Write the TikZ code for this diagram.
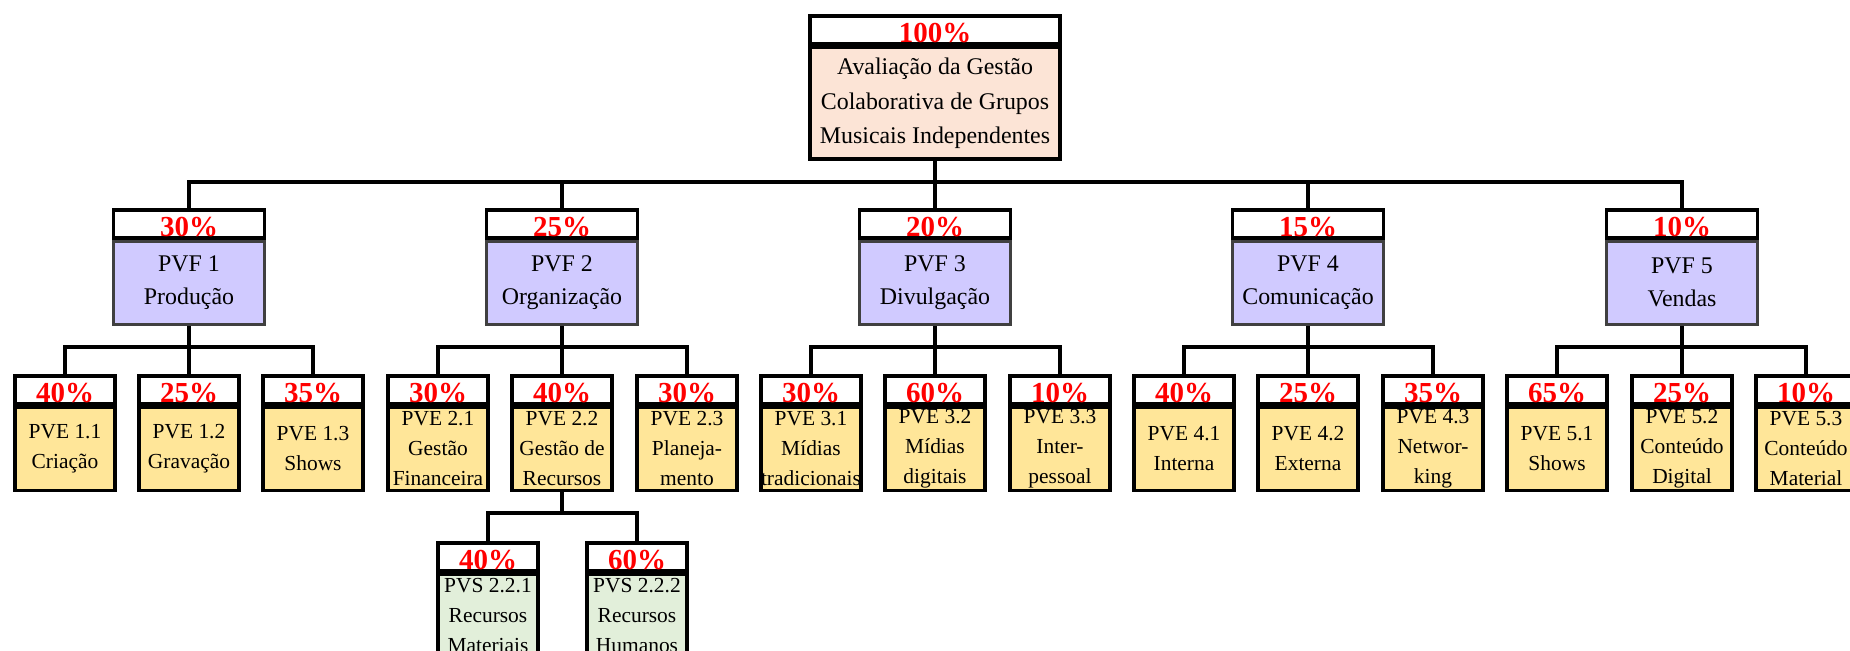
\documentclass[tikz,border=0pt]{standalone}
\usepackage{fontspec}
\setmainfont{Liberation Serif}
\usepackage{tikz}

\definecolor{rootfill}{HTML}{FCE4D6}
\definecolor{pvffill}{HTML}{D0CAFF}
\definecolor{pvefill}{HTML}{FFE699}
\definecolor{pvsfill}{HTML}{E2EFDA}

\newcommand{\rootsize}{\fontsize{13.6}{19.6}\selectfont}
\newcommand{\pvfsize}{\fontsize{13.6}{18.8}\selectfont}
\newcommand{\pvesize}{\fontsize{12.2}{17}\selectfont}

\tikzset{
  pct/.style={draw, line width=2pt, fill=white, text=red,
    font=\fontsize{16.5}{16.5}\selectfont\bfseries, minimum width=#1,
    minimum height=0.56cm, inner sep=0pt, text height=0.5cm,
    text depth=0pt, anchor=north},
  body/.style={draw, line width=2pt, minimum width=#1,
    minimum height=1.66cm, inner sep=0pt, align=center, anchor=north},
  link/.style={line width=1.8pt},
}

\begin{document}
\begin{tikzpicture}[x=0.02cm, y=-0.02cm]
                \clip (0,0) rectangle (1850,650);

                % raiz
                \node[pct=5cm] (rootp) at (935,14) {100\%};
                \node[body=5cm, minimum height=2.24cm, fill=rootfill, font=\rootsize] (root) at (rootp.south) {Avaliação da Gestão\\Colaborativa de Grupos\\Musicais Independentes};

                % PVF
                \node[pct=3.02cm] (pvf1p) at (189,208) {30\%};
                \node[body=3.02cm, fill=pvffill, draw=black!75, font=\pvfsize] (pvf1) at (pvf1p.south) {PVF 1\\Produção};
                \node[pct=3.02cm] (pvf2p) at (562,208) {25\%};
                \node[body=3.02cm, fill=pvffill, draw=black!75, font=\pvfsize] (pvf2) at (pvf2p.south) {PVF 2\\Organização};
                \node[pct=3.02cm] (pvf3p) at (935,208) {20\%};
                \node[body=3.02cm, fill=pvffill, draw=black!75, font=\pvfsize] (pvf3) at (pvf3p.south) {PVF 3\\Divulgação};
                \node[pct=3.02cm] (pvf4p) at (1308,208) {15\%};
                \node[body=3.02cm, fill=pvffill, draw=black!75, font=\pvfsize] (pvf4) at (pvf4p.south) {PVF 4\\Comunicação};
                \node[pct=3.02cm] (pvf5p) at (1682,208) {10\%};
                \node[body=3.02cm, fill=pvffill, draw=black!75, font=\pvfsize] (pvf5) at (pvf5p.south) {PVF 5\\Vendas};

                % PVE
                \node[pct=2cm] (pve11p) at (65,374) {40\%};
                \node[body=2cm, fill=pvefill, font=\pvesize] (pve11) at (pve11p.south) {PVE 1.1\\Criação};
                \node[pct=2cm] (pve12p) at (189,374) {25\%};
                \node[body=2cm, fill=pvefill, font=\pvesize] (pve12) at (pve12p.south) {PVE 1.2\\Gravação};
                \node[pct=2cm] (pve13p) at (313,374) {35\%};
                \node[body=2cm, fill=pvefill, font=\pvesize] (pve13) at (pve13p.south) {PVE 1.3\\Shows};

                \node[pct=2cm] (pve21p) at (438,374) {30\%};
                \node[body=2cm, fill=pvefill, font=\pvesize] (pve21) at (pve21p.south) {PVE 2.1\\Gestão\\Financeira};
                \node[pct=2cm] (pve22p) at (562,374) {40\%};
                \node[body=2cm, fill=pvefill, font=\pvesize] (pve22) at (pve22p.south) {PVE 2.2\\Gestão de\\Recursos};
                \node[pct=2cm] (pve23p) at (687,374) {30\%};
                \node[body=2cm, fill=pvefill, font=\pvesize] (pve23) at (pve23p.south) {PVE 2.3\\Planeja-\\mento};

                \node[pct=2cm] (pve31p) at (811,374) {30\%};
                \node[body=2cm, fill=pvefill, font=\pvesize] (pve31) at (pve31p.south) {PVE 3.1\\Mídias\\tradicionais};
                \node[pct=2cm] (pve32p) at (935,374) {60\%};
                \node[body=2cm, fill=pvefill, font=\pvesize] (pve32) at (pve32p.south) {PVE 3.2\\Mídias\\digitais};
                \node[pct=2cm] (pve33p) at (1060,374) {10\%};
                \node[body=2cm, fill=pvefill, font=\pvesize] (pve33) at (pve33p.south) {PVE 3.3\\Inter-\\pessoal};

                \node[pct=2cm] (pve41p) at (1184,374) {40\%};
                \node[body=2cm, fill=pvefill, font=\pvesize] (pve41) at (pve41p.south) {PVE 4.1\\Interna};
                \node[pct=2cm] (pve42p) at (1308,374) {25\%};
                \node[body=2cm, fill=pvefill, font=\pvesize] (pve42) at (pve42p.south) {PVE 4.2\\Externa};
                \node[pct=2cm] (pve43p) at (1433,374) {35\%};
                \node[body=2cm, fill=pvefill, font=\pvesize] (pve43) at (pve43p.south) {PVE 4.3\\Networ-\\king};

                \node[pct=2cm] (pve51p) at (1557,374) {65\%};
                \node[body=2cm, fill=pvefill, font=\pvesize] (pve51) at (pve51p.south) {PVE 5.1\\Shows};
                \node[pct=2cm] (pve52p) at (1682,374) {25\%};
                \node[body=2cm, fill=pvefill, font=\pvesize] (pve52) at (pve52p.south) {PVE 5.2\\Conteúdo\\Digital};
                \node[pct=2cm] (pve53p) at (1806,374) {10\%};
                \node[body=2cm, fill=pvefill, font=\pvesize] (pve53) at (pve53p.south) {PVE 5.3\\Conteúdo\\Material};

                % PVS
                \node[pct=2cm] (pvs1p) at (488,541) {40\%};
                \node[body=2cm, fill=pvsfill, font=\pvesize] (pvs1) at (pvs1p.south) {PVS 2.2.1\\Recursos\\Materiais};
                \node[pct=2cm] (pvs2p) at (637,541) {60\%};
                \node[body=2cm, fill=pvsfill, font=\pvesize] (pvs2) at (pvs2p.south) {PVS 2.2.2\\Recursos\\Humanos};

                % ligacoes
                \coordinate (b1) at (935,182);
                \coordinate (b2) at (0,347);
                \coordinate (b3) at (0,513);

                \draw[link] (root.south) -- (pvf3p.north);
                \draw[link] (pvf1p.north) |- (b1) -| (pvf5p.north);
                \draw[link] (pvf2p.north) -- (pvf2p.north |- b1);
                \draw[link] (pvf4p.north) -- (pvf4p.north |- b1);

                \draw[link] (pve11p.north) |- (pvf1.south |- b2) -| (pve13p.north);
                \draw[link] (pvf1.south) -- (pve12p.north);
                \draw[link] (pve21p.north) |- (pvf2.south |- b2) -| (pve23p.north);
                \draw[link] (pvf2.south) -- (pve22p.north);
                \draw[link] (pve31p.north) |- (pvf3.south |- b2) -| (pve33p.north);
                \draw[link] (pvf3.south) -- (pve32p.north);
                \draw[link] (pve41p.north) |- (pvf4.south |- b2) -| (pve43p.north);
                \draw[link] (pvf4.south) -- (pve42p.north);
                \draw[link] (pve51p.north) |- (pvf5.south |- b2) -| (pve53p.north);
                \draw[link] (pvf5.south) -- (pve52p.north);

                \draw[link] (pvs1p.north) |- (pve22.south |- b3) -| (pvs2p.north);
                \draw[link] (pve22.south) -- (pve22.south |- b3);
\end{tikzpicture}
\end{document}
